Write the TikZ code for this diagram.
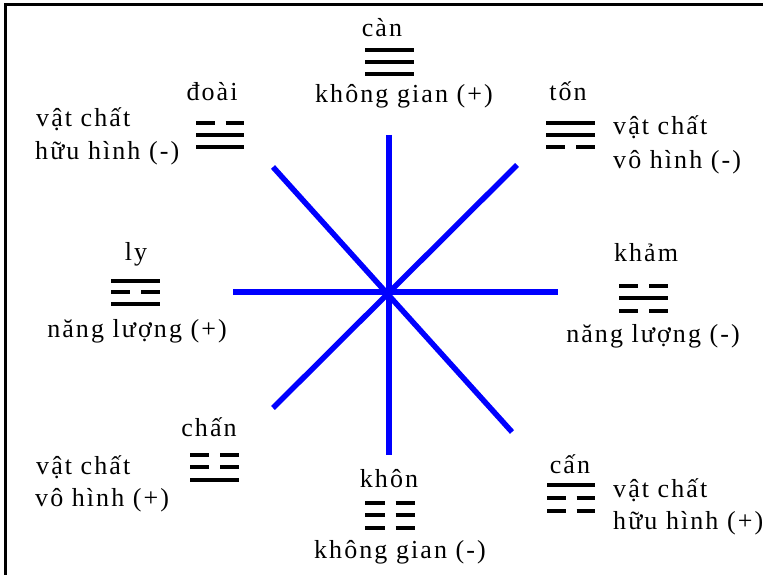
\documentclass[tikz,border=0pt]{standalone}
\usepackage{fontspec}
\setmainfont{Liberation Serif}[LetterSpace=8]
\newcommand\solidbar[3]{\draw[barline] (#1,#3) -- (#2,#3);}
\newcommand\brokenbar[3]{\draw[barline] (#1,#3) -- ({(#1+#2)/2-5.5},#3) ({(#1+#2)/2+5.5},#3) -- (#2,#3);}
\begin{document}
\begin{tikzpicture}[x=1pt,y=-1pt,
  lbl/.style={font=\fontsize{26}{30}\selectfont, inner sep=0pt, anchor=base},
  lblw/.style={lbl, anchor=base west},
  spoke/.style={draw=blue, line width=5.5pt},
  barline/.style={draw=black, line width=4.2pt}]
\useasboundingbox (0,0) rectangle (763,575);
\clip (0,0) rectangle (763,575);
\fill[white] (0,0) rectangle (763,575);
\draw[line width=3pt] (5,800) -- (5,5) -- (900,5);

% spokes
\coordinate (c) at (388,292);
\coordinate (n) at (389,135);
\coordinate (s) at (389,455);
\coordinate (w) at (233,292);
\coordinate (e) at (558,292);
\coordinate (nw) at (273,167);
\coordinate (se) at (512,432);
\coordinate (ne) at (517,165);
\coordinate (sw) at (273,408);
\draw[spoke] (n) -- (s);
\draw[spoke] (w) -- (e);
\draw[spoke] (nw) -- (se);
\draw[spoke] (ne) -- (sw);

% labels
\node[lbl] (can) at (382,37) {càn};
\node[lbl] (kgp) at (404,103) {không gian (+)};
\node[lbl] (doai) at (212,101) {đoài};
\node[lblw] (vc1) at (36,127) {vật chất};
\node[lblw] (hh1) at (35,160) {hữu hình (-)};
\node[lbl] (ton) at (568,101) {tốn};
\node[lblw] (vc2) at (613,135) {vật chất};
\node[lblw] (vh2) at (613,168) {vô hình (-)};
\node[lbl] (ly) at (136,260) {ly};
\node[lbl] (nlp) at (137,337) {năng lượng (+)};
\node[lbl] (kham) at (646,261) {khảm};
\node[lbl] (nlm) at (653,342) {năng lượng (-)};
\node[lbl] (chan) at (209,436) {chấn};
\node[lblw] (vc3) at (36,474) {vật chất};
\node[lblw] (vh3) at (35,506) {vô hình (+)};
\node[lbl] (khon) at (389,487) {khôn};
\node[lbl] (kgm) at (400,558) {không gian (-)};
\node[lbl] (cann) at (570,473) {cấn};
\node[lblw] (vc4) at (613,497) {vật chất};
\node[lblw] (hh4) at (613,529) {hữu hình (+)};

% trigrams
% can
\solidbar{365}{414}{50}\solidbar{365}{414}{62}\solidbar{365}{414}{74}
% doai
\brokenbar{196}{244}{123}\solidbar{196}{244}{135}\solidbar{196}{244}{147}
% ton
\solidbar{546}{595}{123}\solidbar{546}{595}{135}\brokenbar{546}{595}{147}
% ly
\solidbar{111}{160}{281}\brokenbar{111}{160}{292}\solidbar{111}{160}{304}
% kham
\brokenbar{619}{668}{286}\solidbar{619}{668}{298}\brokenbar{619}{668}{311}
% chan
\brokenbar{190}{239}{455}\brokenbar{190}{239}{467}\solidbar{190}{239}{480}
% khon
\brokenbar{365}{415}{503}\brokenbar{365}{415}{515}\brokenbar{365}{415}{528}
% can (gen)
\solidbar{547}{595}{485}\brokenbar{547}{595}{498}\brokenbar{547}{595}{511}
\end{tikzpicture}
\end{document}
